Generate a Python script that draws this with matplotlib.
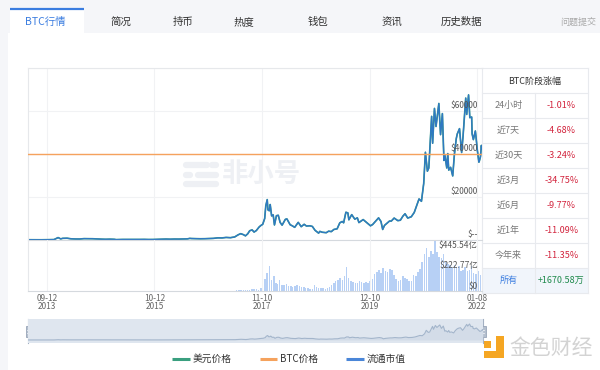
import matplotlib

matplotlib.use("Agg")
import pandas as pd
from matplotlib import pyplot as plt
from matplotlib.patches import Rectangle

plt.rcParams["font.family"] = ["Noto Sans CJK SC", "DejaVu Sans"]

W, H = 600, 370

# BTC price (USD)
p2013 = [("2013-04-28", 135), ("2013-06-01", 120), ("2013-07-01", 90), ("2013-08-01", 105),
         ("2013-09-01", 140), ("2013-10-01", 125), ("2013-11-01", 200), ("2013-11-30", 1130),
         ("2013-12-18", 520)]
p2014 = [("2014-01-01", 770), ("2014-02-01", 830), ("2014-03-01", 560), ("2014-04-01", 470),
         ("2014-05-01", 450), ("2014-06-01", 640), ("2014-07-01", 640), ("2014-08-01", 590),
         ("2014-09-01", 480), ("2014-10-01", 390), ("2014-11-01", 330), ("2014-12-01", 380)]
p2015 = [("2015-01-01", 315), ("2015-01-14", 180), ("2015-02-01", 225), ("2015-03-01", 255),
         ("2015-04-01", 245), ("2015-05-01", 235), ("2015-06-01", 225), ("2015-07-01", 260),
         ("2015-08-01", 280), ("2015-09-01", 230), ("2015-10-01", 240), ("2015-11-01", 320),
         ("2015-12-01", 380)]
p2016 = [("2016-01-01", 430), ("2016-02-01", 370), ("2016-03-01", 435), ("2016-04-01", 415),
         ("2016-05-01", 450), ("2016-06-01", 530), ("2016-06-17", 750), ("2016-07-01", 680),
         ("2016-08-01", 620), ("2016-09-01", 575), ("2016-10-01", 610), ("2016-11-01", 700),
         ("2016-12-01", 750)]
p2017 = [("2017-01-01", 1000), ("2017-02-01", 970), ("2017-03-01", 1190), ("2017-04-01", 1080),
         ("2017-05-01", 1420), ("2017-05-25", 2400), ("2017-06-12", 2950), ("2017-07-01", 2500),
         ("2017-07-16", 1930), ("2017-08-01", 2870), ("2017-08-15", 4300), ("2017-09-01", 4700),
         ("2017-09-15", 3700), ("2017-10-01", 4400), ("2017-10-20", 6000), ("2017-11-01", 6700),
         ("2017-11-15", 7300), ("2017-11-29", 10000), ("2017-12-07", 16000), ("2017-12-17", 18800),
         ("2017-12-22", 14000)]
p2018 = [("2018-01-01", 13600), ("2018-01-07", 16500), ("2018-01-17", 11200), ("2018-01-28", 11700),
         ("2018-02-06", 7000), ("2018-02-20", 11300), ("2018-03-05", 11500), ("2018-03-18", 8200),
         ("2018-04-01", 6900), ("2018-04-24", 9600), ("2018-05-05", 9800), ("2018-05-28", 7100),
         ("2018-06-12", 6600), ("2018-06-29", 5900), ("2018-07-24", 8200), ("2018-08-14", 6200),
         ("2018-09-04", 7300), ("2018-09-20", 6500), ("2018-10-15", 6600), ("2018-11-01", 6300),
         ("2018-11-20", 4500), ("2018-12-15", 3200), ("2018-12-24", 4000)]
p2019 = [("2019-01-10", 3600), ("2019-02-07", 3400), ("2019-02-24", 4100), ("2019-03-15", 3900),
         ("2019-04-02", 4900), ("2019-04-25", 5200), ("2019-05-14", 8000), ("2019-05-31", 8600),
         ("2019-06-10", 8000), ("2019-06-26", 12900), ("2019-07-10", 12600), ("2019-07-17", 9400),
         ("2019-08-06", 11800), ("2019-08-28", 9700), ("2019-09-15", 10300), ("2019-09-26", 8100),
         ("2019-10-26", 9500), ("2019-11-20", 8100), ("2019-12-17", 6600)]
p2020 = [("2020-01-01", 7200), ("2020-01-20", 8600), ("2020-02-12", 10300), ("2020-02-29", 8600),
         ("2020-03-12", 4900), ("2020-03-25", 6800), ("2020-04-29", 8800), ("2020-05-12", 8800),
         ("2020-06-01", 10200), ("2020-06-27", 9000), ("2020-07-15", 9200), ("2020-08-02", 11100),
         ("2020-08-17", 12200), ("2020-09-05", 10200), ("2020-09-30", 10800), ("2020-10-21", 12800),
         ("2020-11-05", 15600), ("2020-11-24", 19100), ("2020-12-11", 18000), ("2020-12-27", 26300)]
p2021 = [("2021-01-08", 40800), ("2021-01-22", 32000), ("2021-02-01", 33500), ("2021-02-21", 57500),
         ("2021-02-28", 45000), ("2021-03-13", 61200), ("2021-03-24", 52800), ("2021-04-13", 63500),
         ("2021-04-25", 49000), ("2021-05-08", 58800), ("2021-05-19", 37000), ("2021-05-26", 39300),
         ("2021-06-08", 33500), ("2021-06-15", 40200), ("2021-06-22", 32500), ("2021-07-05", 33800),
         ("2021-07-20", 29800), ("2021-08-01", 39900), ("2021-08-14", 47100), ("2021-08-21", 49300),
         ("2021-09-06", 51800), ("2021-09-21", 40700), ("2021-10-01", 48200), ("2021-10-20", 66000),
         ("2021-10-27", 58400), ("2021-11-09", 67500), ("2021-11-18", 56900), ("2021-12-01", 57200),
         ("2021-12-04", 49400), ("2021-12-13", 46700), ("2021-12-27", 50700)]
p2022 = [("2022-01-01", 47700), ("2022-01-10", 41800), ("2022-01-21", 36200), ("2022-01-24", 36700),
         ("2022-02-01", 38700), ("2022-02-08", 44000), ("2022-02-10", 42500)]

# price of 1 BTC in BTC (orange line)
btc_price = 1.0

# volume, 亿 USD, half-month steps from 2013-05-01
vol_2013 = [0.3, 0.3, 0.4, 0.3, 0.2, 0.2, 0.2, 0.2, 0.2, 0.2, 0.3, 0.3, 0.6, 1.6, 3.0, 1.8]
vol_2014 = [1.2, 1.0, 0.9, 0.8, 0.9, 0.7, 0.6, 0.5, 0.5, 0.4, 0.5, 0.4,
            0.3, 0.3, 0.3, 0.3, 0.3, 0.3, 0.3, 0.3, 0.4, 0.3, 0.3, 0.3]
vol_2015 = [0.4, 0.6, 0.3, 0.3, 0.3, 0.3, 0.3, 0.2, 0.2, 0.2, 0.2, 0.3,
            0.3, 0.3, 0.3, 0.3, 0.3, 0.3, 0.4, 0.6, 0.8, 0.6, 0.5, 0.5]
vol_2016 = [0.6, 0.5, 0.5, 0.5, 0.6, 0.6, 0.6, 0.6, 0.7, 0.8, 1.2, 1.5,
            1.0, 0.8, 0.8, 0.8, 0.7, 0.8, 0.8, 0.9, 1.0, 1.0, 1.2, 1.5]
vol_2017 = [2, 2.5, 1.5, 1.5, 2.5, 2.5, 2, 2.5, 4, 6, 10, 12,
            10, 9, 7, 9, 15, 20, 14, 12, 25, 53, 110, 160]
vol_2018 = [222, 98, 133, 70, 60, 98, 55, 50, 60, 48, 42, 38,
            45, 55, 45, 38, 32, 28, 25, 22, 22, 53, 35, 30]
vol_2019 = [25, 24, 22, 28, 35, 55, 75, 90, 100, 115, 95, 130,
            216, 115, 85, 80, 70, 75, 90, 80, 75, 80, 70, 85]
vol_2020 = [110, 150, 170, 190, 160, 205, 180, 170, 200, 185, 140, 110,
            90, 100, 130, 120, 110, 90, 85, 140, 130, 170, 200, 260]
vol_2021 = [330, 385, 300, 360, 330, 445, 350, 300, 290, 330, 260, 240,
            230, 210, 230, 210, 220, 180, 190, 210, 180, 190, 220, 160]
vol_2022 = [150, 180, 140]

tick_dates = ["2013-09-12", "2015-10-12", "2017-11-10", "2019-12-10", "2022-01-08"]
tick_labels = ["09-12\n2013", "10-12\n2015", "11-10\n2017", "12-10\n2019", "01-08\n2022"]
price_ticks = [0, 20000, 40000, 60000]
price_labels = ["$--", "$20000", "$40000", "$60000"]
vol_ticks = [0, 222.77, 445.54]
vol_labels = ["$0", "$222.77亿", "$445.54亿"]

tabs = ["BTC行情", "简况", "持币", "热度", "钱包", "资讯", "历史数据", "问题提交"]
periods = ["24小时", "近7天", "近30天", "近3月", "近6月", "近1年", "今年来", "所有"]
changes = ["-1.01%", "-4.68%", "-3.24%", "-34.75%", "-9.77%", "-11.09%", "-11.35%", "+1670.58万"]
legend_names = ["美元价格", "BTC价格", "流通市值"]

c_green = "#3a9f7f"
c_orange = "#f5a25d"
c_blue = "#2f78c4"
c_legend_blue = "#4a86d8"


def rect(x0, y0, x1, y1):
    return [x0 / W, 1 - y1 / H, (x1 - x0) / W, (y1 - y0) / H]


def main():
    pts = p2013 + p2014 + p2015 + p2016 + p2017 + p2018 + p2019 + p2020 + p2021 + p2022
    dates = pd.to_datetime([d for d, _ in pts])
    usd = [v for _, v in pts]
    volume = vol_2013 + vol_2014 + vol_2015 + vol_2016 + vol_2017 + vol_2018 + vol_2019 + vol_2020 + vol_2021 + vol_2022
    vol_dates = pd.date_range("2013-05-01", periods=len(volume), freq="SMS")
    ticks = pd.to_datetime(tick_dates)
    xlim = (pd.Timestamp("2013-05-01"), pd.Timestamp("2022-02-12"))

    fig = plt.figure(figsize=(W / 100, H / 100), dpi=100)

    # page background, pixel coordinates
    bg = fig.add_axes([0, 0, 1, 1], zorder=0)
    bg.set_xlim(0, W)
    bg.set_ylim(H, 0)
    bg.axis("off")
    bg.add_patch(Rectangle((0, 0), W, 33, color="#f5f6f9", lw=0))
    bg.add_patch(Rectangle((0, 33), 8, H - 33, color="#f5f6f9", lw=0))
    bg.add_patch(Rectangle((10, 9), 74, 24, color="white", lw=0))
    bg.plot([10, 84], [9, 9], color="#3b7de0", lw=1.6, solid_capstyle="butt")
    tab_x = [45, 121, 183, 244, 318, 392, 461, 578]
    for i, (t, x) in enumerate(zip(tabs, tab_x)):
        col = "#3b7de0" if i == 0 else ("#aaaaaa" if i == len(tabs) - 1 else "#333333")
        fs = 6.5 if i == len(tabs) - 1 else 7.5
        bg.text(x, 22, t, ha="center", va="center", fontsize=fs, color=col)

    # watermark
    wm = "#eef0f4"
    for y, segs in [(165, [(186, 207), (212, 216)]), (175, [(186, 190), (198, 216)]), (184, [(186, 216)])]:
        for a, b in segs:
            bg.plot([a, b], [y, y], color=wm, lw=4.5, solid_capstyle="round")
    bg.text(222, 174, "非小号", ha="left", va="center", fontsize=19, color=wm, fontweight="bold")

    # table
    tx0, txm, tx1 = 482, 535, 588
    bg.add_patch(Rectangle((tx0, 268), tx1 - tx0, 25, color="#f1f5fb", lw=0))
    lc = "#e8eaee"
    bg.plot([tx0, tx1], [68, 68], color=lc, lw=0.8)
    for i in range(9):
        y = 93 + 25 * i
        bg.plot([tx0, tx1], [y, y], color=lc, lw=0.8)
    bg.plot([tx0, tx0], [68, 293], color=lc, lw=0.8)
    bg.plot([tx1, tx1], [68, 293], color=lc, lw=0.8)
    bg.plot([txm, txm], [93, 293], color=lc, lw=0.8)
    bg.text((tx0 + tx1) / 2, 81, "BTC阶段涨幅", ha="center", va="center", fontsize=6.5, color="#333333")
    for i, (p, c) in enumerate(zip(periods, changes)):
        y = 105.5 + 25 * i
        last = i == len(periods) - 1
        bg.text((tx0 + txm) / 2, y, p, ha="center", va="center", fontsize=6.5,
                color="#3b7de0" if last else "#777777")
        bg.text((txm + tx1) / 2, y, c, ha="center", va="center", fontsize=6.5,
                color="#1f8a4c" if last else "#d2233c")

    # legend
    for (x0, x1), name, col in zip([(172, 190), (260, 277), (346, 364)], legend_names,
                                   [c_green, c_orange, c_legend_blue]):
        bg.plot([x0, x1], [359, 359], color=col, lw=2.2, solid_capstyle="butt")
        bg.text(x1 + 3, 359, name, ha="left", va="center", fontsize=7, color="#333333")

    # 金色财经 mark
    bg.add_patch(Rectangle((484, 341), 7, 7, color="#f5a623", lw=0))
    bg.add_patch(Rectangle((496, 336), 8, 22, color="#f5a623", lw=0))
    bg.add_patch(Rectangle((484, 351), 20, 7, color="#f5a623", lw=0))
    bg.text(509, 348, "金色财经", ha="left", va="center", fontsize=15, color="#d3d3d3")

    # price panel
    ax = fig.add_axes(rect(28, 68, 482, 240), zorder=2)
    ax.patch.set_alpha(0)
    ax.plot(dates, usd, color=c_green, lw=1.2)
    ax.plot(dates, usd, color=c_blue, lw=0.95)
    ax.set_xlim(*xlim)
    ax.set_ylim(0, 80000)
    ax.set_yticks([0, 20000, 40000, 60000, 80000])
    ax.set_xticks(ticks)
    ax.tick_params(length=0, labelbottom=False, labelleft=False)
    ax.grid(color="#f1f2f4", lw=0.8)
    for s in ["top", "left"]:
        ax.spines[s].set_color("#e6e8eb")
    ax.spines["right"].set_visible(False)
    ax.spines["bottom"].set_color("#d5d9de")
    for v, lbl in zip(price_ticks, price_labels):
        ax.annotate(lbl, xy=(1, v), xycoords=("axes fraction", "data"), xytext=(-3, 1),
                    textcoords="offset points", ha="right", va="bottom", fontsize=6, color="#555555")
    btc = ax.twinx()
    btc.set_ylim(0, 2)
    btc.axhline(btc_price, color=c_orange, lw=1.0)
    btc.axis("off")

    # volume panel
    vx = fig.add_axes(rect(28, 240, 482, 291), zorder=2)
    vx.patch.set_alpha(0)
    vx.bar(vol_dates, volume, width=11, color="#b7d0f5", lw=0)
    vx.set_xlim(*xlim)
    vx.set_ylim(0, 454)
    vx.set_yticks([])
    vx.set_xticks(ticks)
    vx.set_xticklabels(tick_labels, fontsize=6, color="#666666", linespacing=0.95)
    vx.tick_params(length=0, pad=2)
    vx.grid(axis="x", color="#f1f2f4", lw=0.8)
    vx.spines["top"].set_visible(False)
    vx.spines["right"].set_visible(False)
    vx.spines["left"].set_color("#e6e8eb")
    vx.spines["bottom"].set_color("#d5d9de")
    for v, lbl, va in zip(vol_ticks, vol_labels, ["bottom", "center", "top"]):
        vx.annotate(lbl, xy=(1, v), xycoords=("axes fraction", "data"), xytext=(-3, 0),
                    textcoords="offset points", ha="right", va=va, fontsize=6, color="#555555")

    # overview slider
    sx = fig.add_axes(rect(28, 319, 483, 343), zorder=2)
    sx.set_facecolor("#dfe6ef")
    sx.fill_between(dates, usd, color="#d3dce8", lw=0)
    sx.plot(dates, usd, color="#a3b5cb", lw=0.8)
    sx.set_xlim(*xlim)
    sx.set_ylim(-12700, 88600)
    sx.set_xticks([])
    sx.set_yticks([])
    for s in sx.spines.values():
        s.set_visible(False)
    for x in (28, 483):
        bg.plot([x, x], [319, 343], color="#a3b0c2", lw=0.8, zorder=3)
        bg.add_patch(Rectangle((x - 2.5, 326), 5, 11, facecolor="#b4bfce", edgecolor="#98a5b8",
                               lw=0.6, zorder=4))
        bg.plot([x - 1.2, x + 1.2], [330, 330], color="white", lw=0.5, zorder=5)
        bg.plot([x - 1.2, x + 1.2], [333, 333], color="white", lw=0.5, zorder=5)
    bg.set_zorder(1)

    fig.savefig("out.png", dpi=100)


if __name__ == "__main__":
    main()
